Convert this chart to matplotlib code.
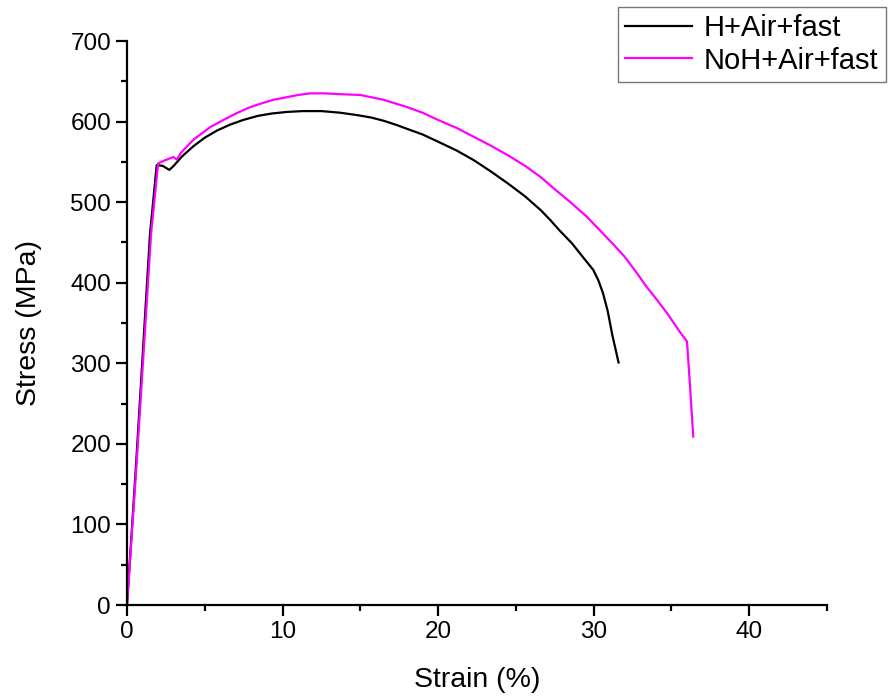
import matplotlib
matplotlib.use('Agg')
import matplotlib.pyplot as plt
from matplotlib.ticker import MultipleLocator

plt.rcParams['font.family'] = ['Liberation Sans', 'DejaVu Sans']

# H+Air+fast
strain_h = [0, 0.6, 1.48, 1.91, 2.3, 2.72, 3.0, 3.5, 4.24, 5.0, 5.8, 6.6, 7.47, 8.4, 9.3,
            10.3, 11.3, 12.5, 13.7, 14.8, 15.7, 16.5, 17.3, 18.0, 19.0, 20.0,
            21.2, 22.3, 23.4, 24.5, 25.6, 26.6, 27.2, 27.8, 28.6, 29.3, 29.97,
            30.3, 30.6, 30.9, 31.2, 31.6]
stress_h = [0, 180, 461, 546, 545, 540, 545, 556, 569, 580, 589, 596, 602, 607, 610,
            612, 613, 613, 611, 608, 605, 601, 596, 591, 584, 575,
            564, 552, 538, 523, 507, 490, 478, 465, 449, 432, 416,
            403, 387, 365, 335, 301]

# NoH+Air+fast
strain_n = [0, 0.6, 1.55, 2.0, 2.44, 2.98, 3.2, 3.5, 4.3, 5.34, 6.2, 7.0, 7.8, 8.55,
            9.4, 10.2, 11.0, 11.77, 12.7, 13.7, 15.0, 16.5, 18.0, 19.0, 20.0,
            21.2, 22.3, 23.4, 24.5, 25.6, 26.6, 27.5, 28.5, 29.5, 30.4, 31.2,
            32.0, 32.7, 33.4, 34.1, 34.8, 35.5, 36.0, 36.2, 36.4]
stress_n = [0, 170, 461, 548, 552, 556, 553, 562, 578, 593, 602, 610, 617, 622,
            627, 630, 633, 635, 635, 634, 633, 627, 618, 611, 602,
            592, 581, 570, 558, 545, 531, 516, 500, 483, 465, 449,
            432, 414, 395, 378, 360, 340, 327, 270, 209]

fig = plt.figure(figsize=(8.89, 7.0), dpi=100)
ax = fig.add_axes([127 / 889, 1 - 605 / 700, 700 / 889, 564 / 700])

ax.plot(strain_h, stress_h, color='black', lw=1.6, label='H+Air+fast')
ax.plot(strain_n, stress_n, color='#ff00ff', lw=1.6, label='NoH+Air+fast')

ax.set_xlim(0, 45)
ax.set_ylim(0, 700)
ax.xaxis.set_major_locator(MultipleLocator(10))
ax.xaxis.set_minor_locator(MultipleLocator(5))
ax.yaxis.set_major_locator(MultipleLocator(100))
ax.yaxis.set_minor_locator(MultipleLocator(50))

for s in ['top', 'right']:
    ax.spines[s].set_visible(False)
for s in ['left', 'bottom']:
    ax.spines[s].set_linewidth(1.6)

ax.tick_params(which='major', length=8, width=1.6, labelsize=17.5, direction='out')
ax.tick_params(which='minor', length=4, width=1.6, direction='out')

ax.set_xlabel('Strain (%)', fontsize=20.5, labelpad=17)
ax.set_ylabel('Stress (MPa)', fontsize=20.5, labelpad=20)

leg = fig.legend(loc='upper right', bbox_to_anchor=(886 / 889, 1 - 7 / 700),
                 borderaxespad=0, fontsize=21, frameon=True, fancybox=False,
                 edgecolor='#555555', handlelength=2.3, borderpad=0.25,
                 labelspacing=0.15, handletextpad=0.4)
leg.get_frame().set_linewidth(1.0)

fig.savefig('out.png', dpi=100)
